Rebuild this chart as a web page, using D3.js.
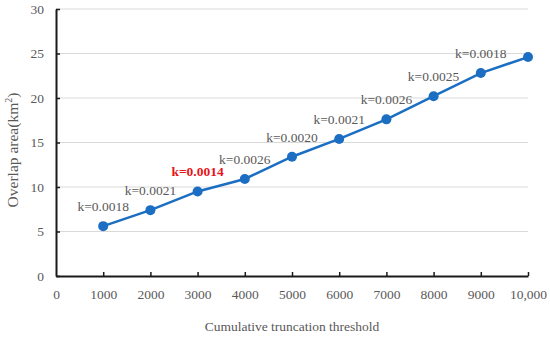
<!DOCTYPE html>
<html>
<head>
<meta charset="utf-8">
<script src="https://cdnjs.cloudflare.com/ajax/libs/d3/7.8.5/d3.min.js"></script>
<style>
  body { margin: 0; background: #fff; }
  text { font-family: "Liberation Serif", "Times New Roman", serif; }
</style>
</head>
<body>
<div id="chart"></div>
<script>
const width = 550;
const height = 337;

// data
const thresholds = [1000, 2000, 3000, 4000, 5000, 6000, 7000, 8000, 9000, 10000];
const overlapArea = [5.6, 7.4, 9.5, 10.9, 13.4, 15.4, 17.6, 20.2, 22.8, 24.6];
const slopeLabels = ["k=0.0018", "k=0.0021", "k=0.0014", "k=0.0026", "k=0.0020",
                     "k=0.0021", "k=0.0026", "k=0.0025", "k=0.0018"];
const highlightIndex = 2;
const xTicks = [0, 1000, 2000, 3000, 4000, 5000, 6000, 7000, 8000, 9000, 10000];
const yTicks = [0, 5, 10, 15, 20, 25, 30];

const plotLeft = 56, plotRight = 528, plotTop = 9, plotBottom = 276;

const svg = d3.select("#chart")
  .append("svg")
  .attr("width", width)
  .attr("height", height);

let xScale = d3.scaleLinear().domain([0, 10000]).range([plotLeft, plotRight]);
let yScale = d3.scaleLinear().domain([0, 30]).range([plotBottom, plotTop]);

// gridlines
svg.append("g")
  .selectAll("line")
  .data(yTicks.filter(d => d > 0))
  .enter()
  .append("line")
  .attr("x1", plotLeft)
  .attr("x2", plotRight)
  .attr("y1", d => yScale(d))
  .attr("y2", d => yScale(d))
  .attr("stroke", "#d9d9d9")
  .attr("stroke-width", 1);

const xAxis = d3.axisBottom(xScale)
  .tickValues(xTicks)
  .tickSize(-4)
  .tickSizeOuter(0)
  .tickPadding(13)
  .tickFormat(d => d === 10000 ? "10,000" : String(d));
const gx = svg.append("g")
  .attr("transform", "translate(0," + plotBottom + ")")
  .call(xAxis);

const yAxis = d3.axisLeft(yScale)
  .tickValues(yTicks)
  .tickSize(-4)
  .tickSizeOuter(0)
  .tickPadding(12);
const gy = svg.append("g")
  .attr("transform", "translate(" + plotLeft + ",0)")
  .call(yAxis);

[gx, gy].forEach(g => {
  g.select(".domain").attr("stroke", "#1a1a1a").attr("stroke-width", 2);
  g.selectAll(".tick line").attr("stroke", "#1a1a1a").attr("stroke-width", 1.5);
  g.selectAll(".tick text")
    .attr("fill", "#595959")
    .style("font-size", "13.5px")
    .style("font-family", "'Liberation Serif', serif");
});
gx.selectAll(".tick").filter(d => d === 0).select("line").remove();

const points = thresholds.map((t, i) => ({ x: t, y: overlapArea[i] }));

svg.append("path")
  .datum(points)
  .attr("fill", "none")
  .attr("stroke", "#1b6ec2")
  .attr("stroke-width", 2.5)
  .attr("d", d3.line().x(d => xScale(d.x)).y(d => yScale(d.y)));

svg.selectAll("circle")
  .data(points)
  .enter()
  .append("circle")
  .attr("cx", d => xScale(d.x))
  .attr("cy", d => yScale(d.y))
  .attr("r", 5)
  .attr("fill", "#1b6ec2");

svg.append("g")
  .selectAll("text")
  .data(slopeLabels)
  .enter()
  .append("text")
  .attr("x", (d, i) => xScale(thresholds[i]))
  .attr("y", (d, i) => yScale(overlapArea[i]) - 15)
  .attr("text-anchor", "middle")
  .attr("fill", (d, i) => i === highlightIndex ? "#e8141b" : "#595959")
  .attr("font-weight", (d, i) => i === highlightIndex ? "bold" : "normal")
  .style("font-size", "13.5px")
  .text(d => d);

svg.append("text")
  .attr("x", (plotLeft + plotRight) / 2)
  .attr("y", 331)
  .attr("text-anchor", "middle")
  .attr("fill", "#595959")
  .style("font-size", "13.5px")
  .text("Cumulative truncation threshold");

svg.append("text")
  .attr("transform", "translate(18,150) rotate(-90)")
  .attr("text-anchor", "middle")
  .attr("fill", "#595959")
  .style("font-size", "15.5px")
  .html("Overlap area(km<tspan dy='-6' style='font-size:10px'>2</tspan><tspan dy='6'>)</tspan>");
</script>
</body>
</html>
